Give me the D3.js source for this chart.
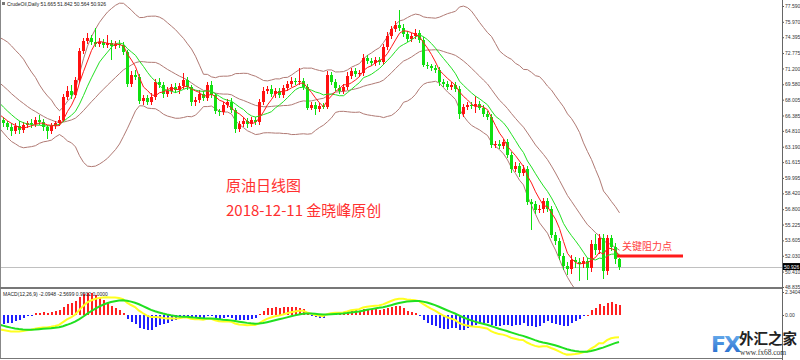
<!DOCTYPE html>
<meta charset="utf-8">
<script src="https://d3js.org/d3.v7.min.js"></script>
<style>
  body { margin: 0; background: #fff; }
  svg text { font-family: "Liberation Sans", Arial, sans-serif; }
</style>
<div id="chart"></div>
<script>

// closes before the first visible bar (only used to warm up the indicators)
var prevCloses = [71.0, 71.6, 72.2, 72.0, 72.6, 73.1, 72.7, 72.2, 72.9, 73.3, 72.6,
  72.5, 72.8, 72.3, 71.8, 71.5, 71.9, 71.2, 70.5, 70.8, 69.9, 69.2, 68.5, 68.8, 67.9,
  67.2, 66.8, 66.1, 66.4, 65.9];

// daily closes of the visible bars (open = previous close)
var closes = [
  65.6, 65.2, 64.8, 65.3, 64.9, 65.4, 65.6, 65.5, 65.9, 65.7,
  65.2, 64.8, 65.3, 65.6, 65.9, 68.3, 68.9, 68.5, 70.0, 73.0,
  74.0, 74.3, 73.9, 73.7, 73.9, 73.6, 73.8, 73.5, 73.7, 73.6,
  72.9, 69.6, 70.5, 70.3, 67.9, 68.2, 67.8, 68.3, 69.8, 69.5,
  68.6, 68.9, 69.3, 69.0, 69.4, 70.0, 69.3, 67.8, 68.0, 68.6,
  68.2, 69.5, 68.5, 66.8, 66.7, 67.5, 67.8, 66.9, 65.0, 65.5,
  65.8, 65.5, 65.9, 65.7, 67.8, 68.9, 69.1, 68.6, 68.9, 68.5,
  69.2, 69.6, 69.9, 69.8, 69.9, 69.3, 67.2, 67.5, 67.0, 67.4,
  67.3, 70.5, 69.8, 69.2, 68.9, 69.3, 70.4, 70.9, 70.6, 70.7,
  72.3, 72.0, 71.8, 72.1, 71.9, 73.4, 74.5, 75.2, 75.6, 75.3,
  74.7, 74.2, 74.5, 74.8, 74.1, 71.6, 71.4, 71.2, 71.0, 69.8,
  69.6, 69.3, 69.5, 69.1, 66.5, 67.3, 67.5, 67.4, 67.6, 67.2,
  66.5, 66.2, 63.4, 63.5, 63.3, 63.7, 62.3, 60.9, 61.2, 60.5,
  60.9, 57.5, 57.3, 56.7, 56.8, 57.6, 56.8, 54.2, 53.5, 52.0,
  51.0, 50.7, 51.6, 51.4, 51.2, 51.5, 50.8, 53.2, 52.6, 53.9,
  50.5, 53.9, 52.9, 51.665, 50.926];

// wick lengths above / below the body
var upWick = [
  0.3, 0.2, 0.4, 0.3, 0.5, 0.3, 0.2, 0.4, 0.3, 0.5,
  0.3, 0.2, 0.3, 0.2, 0.4, 0.3, 0.5, 0.6, 0.3, 0.3,
  0.3, 0.5, 0.3, 1.4, 0.4, 0.3, 0.8, 0.3, 0.3, 0.4,
  0.3, 0.2, 0.4, 0.5, 0.3, 0.3, 0.3, 0.4, 0.3, 0.4,
  0.3, 0.4, 0.3, 0.4, 0.3, 0.7, 0.3, 0.2, 0.3, 0.4,
  0.3, 0.3, 0.4, 0.2, 0.3, 0.3, 0.3, 0.4, 0.3, 0.3,
  0.4, 0.3, 0.3, 0.3, 0.3, 0.4, 0.3, 0.4, 0.3, 0.3,
  0.3, 0.3, 0.4, 0.3, 1.3, 0.3, 0.3, 0.3, 0.3, 0.3,
  0.3, 0.4, 0.3, 0.3, 0.3, 0.3, 0.4, 0.3, 0.3, 0.3,
  0.4, 0.3, 0.3, 0.3, 0.3, 0.3, 0.4, 0.3, 0.5, 1.6,
  0.4, 0.3, 0.3, 0.4, 0.3, 0.3, 0.3, 0.3, 0.4, 0.3,
  0.3, 0.3, 0.3, 0.3, 0.3, 0.3, 0.3, 0.3, 0.8, 0.3,
  0.3, 0.3, 0.3, 0.3, 0.4, 0.3, 0.3, 0.3, 0.4, 0.3,
  0.4, 0.3, 0.3, 0.3, 0.4, 0.3, 0.3, 0.3, 0.3, 0.3,
  0.3, 0.4, 0.5, 0.3, 0.4, 0.4, 0.3, 0.4, 1.1, 0.4,
  0.4, 0.3, 0.3, 0.4, 0.18];
var downWick = [
  0.4, 0.3, 0.5, 0.3, 0.4, 0.3, 0.3, 0.4, 0.3, 0.3,
  0.4, 0.8, 0.3, 0.3, 0.3, 0.2, 0.3, 0.4, 0.3, 0.3,
  0.3, 0.3, 0.3, 0.3, 0.3, 0.3, 0.3, 1.4, 0.3, 0.3,
  0.3, 0.3, 0.3, 0.3, 0.3, 0.4, 0.3, 0.3, 0.3, 0.3,
  0.4, 0.3, 0.3, 0.3, 0.4, 0.3, 0.3, 0.4, 0.4, 0.3,
  0.3, 0.3, 0.3, 0.3, 0.4, 0.3, 0.3, 0.3, 0.4, 0.3,
  0.3, 0.4, 0.3, 0.3, 0.3, 0.3, 0.3, 0.3, 0.4, 0.3,
  0.3, 0.3, 0.3, 0.3, 0.3, 0.3, 0.3, 0.3, 0.6, 0.3,
  0.3, 0.3, 0.3, 0.3, 0.3, 0.3, 0.3, 0.3, 0.3, 0.3,
  0.3, 0.3, 0.3, 0.3, 0.3, 0.3, 0.3, 0.3, 0.3, 0.3,
  0.3, 0.3, 0.3, 0.3, 0.3, 0.3, 0.3, 0.3, 0.3, 0.4,
  0.3, 0.3, 0.3, 0.3, 0.5, 0.3, 0.4, 0.3, 0.8, 0.3,
  0.3, 0.3, 0.3, 0.3, 0.3, 0.3, 0.3, 0.4, 0.3, 0.4,
  0.3, 0.3, 2.6, 0.4, 0.3, 0.4, 0.3, 0.4, 0.4, 0.4,
  0.4, 0.6, 0.5, 0.6, 1.7, 0.4, 1.2, 0.4, 0.5, 0.4,
  0.8, 0.4, 0.4, 0.5, 0.36];

var priceTicks = [77.590, 75.970, 74.395, 72.775, 71.200, 69.580, 68.005, 66.385, 64.810,
  63.190, 61.615, 59.995, 58.420, 56.800, 55.225, 53.605, 52.030, 50.410, 48.835];
var macdTicks = [2.3404, 0];
var lastPrice = 50.926;
var resistance = 52.0;

var headerText = "CrudeOil,Daily  51.665 51.842 50.564 50.926";
var macdText = "MACD(12,26,9) -2.0948 -2.5699 0.9502 0.0000";
var title1 = "原油日线图";
var title2 = "2018-12-11 金晓峰原创";
var noteText = "关键阻力点";

var width = 800, height = 360;
var axisX = 782, mainBottom = 288, macdTop = 290, macdBottom = 358;

var svg = d3.select("#chart").append("svg")
  .attr("width", width).attr("height", height);

var defs = svg.append("defs");
defs.append("clipPath").attr("id", "clipMain")
  .append("rect").attr("x", 1).attr("y", 0).attr("width", axisX - 1).attr("height", mainBottom - 1);
defs.append("clipPath").attr("id", "clipMacd")
  .append("rect").attr("x", 1).attr("y", macdTop).attr("width", axisX - 1).attr("height", macdBottom - macdTop);

// ---- indicator calculations on the full close series
var all = prevCloses.concat(closes);
var off = prevCloses.length;

function sma(arr, n, i) {
  if (i < n - 1) return null;
  var s = 0;
  for (var k = i - n + 1; k <= i; k++) s += arr[k];
  return s / n;
}
function ema(arr, n) {
  var a = 2 / (n + 1), out = [];
  arr.forEach(function(v, i) { out.push(i == 0 ? v : out[i - 1] + a * (v - out[i - 1])); });
  return out;
}

var ind = all.map(function(c, k) {
  var mid = sma(all, 20, k), sd = null;
  if (mid != null) {
    var s = 0;
    for (var j = k - 19; j <= k; j++) s += (all[j] - mid) * (all[j] - mid);
    sd = Math.sqrt(s / 20);
  }
  return {
    i: k - off,
    ma5: sma(all, 5, k),
    ma10: sma(all, 10, k),
    mid: mid,
    up: mid == null ? null : mid + 2 * sd,
    lo: mid == null ? null : mid - 2 * sd
  };
});
var e12 = ema(all, 12), e26 = ema(all, 26);
var dif = all.map(function(c, k) { return e12[k] - e26[k]; });
var dea = ema(dif, 9);
ind.forEach(function(d, k) { d.dif = dif[k]; d.dea = dea[k]; d.hist = 2 * (dif[k] - dea[k]); });

var bars = closes.map(function(c, i) {
  var o = all[off + i - 1];
  return { i: i, o: o, c: c, h: Math.max(o, c) + upWick[i], l: Math.min(o, c) - downWick[i] };
});

// ---- scales
var x = d3.scaleLinear().domain([0, closes.length - 1]).range([3, 3 + 4 * (closes.length - 1)]);
var y = d3.scaleLinear().domain([48.835, 77.590]).range([287, 6]);
var ym = d3.scaleLinear().domain([0, 2.3404]).range([315, 292]);

// ---- main panel
var main = svg.append("g").attr("clip-path", "url(#clipMain)");

// current price line
main.append("line")
  .attr("x1", 0).attr("x2", axisX)
  .attr("y1", Math.round(y(lastPrice)) + 0.5).attr("y2", Math.round(y(lastPrice)) + 0.5)
  .attr("stroke", "#c0c0c0");

// bollinger bands
["up", "mid", "lo"].forEach(function(key) {
  main.append("path")
    .datum(ind.filter(function(d) { return d[key] != null; }))
    .attr("fill", "none")
    .attr("stroke", "#b07a74")
    .attr("stroke-width", 1)
    .attr("d", d3.line().x(function(d) { return x(d.i) + 0.5; }).y(function(d) { return y(d[key]); }));
});

// candles
var cg = main.append("g").attr("shape-rendering", "crispEdges");
cg.selectAll(".wick").data(bars).enter().append("line")
  .attr("x1", function(d) { return Math.round(x(d.i)) + 0.5; })
  .attr("x2", function(d) { return Math.round(x(d.i)) + 0.5; })
  .attr("y1", function(d) { return y(d.h); })
  .attr("y2", function(d) { return y(d.l); })
  .attr("stroke", function(d) { return d.c >= d.o ? "#ff1010" : "#10e010"; });
cg.selectAll(".body").data(bars).enter().append("rect")
  .attr("x", function(d) { return Math.round(x(d.i)) - 1; })
  .attr("width", 3)
  .attr("y", function(d) { return y(Math.max(d.o, d.c)); })
  .attr("height", function(d) { return Math.max(1, Math.abs(y(d.o) - y(d.c))); })
  .attr("fill", function(d) { return d.c >= d.o ? "#ff1010" : "#10e010"; });

// moving averages
var lastIdx = closes.length - 1;
var visInd = ind.filter(function(d) { return d.i <= lastIdx; });
main.append("path")
  .datum(visInd.filter(function(d) { return d.ma10 != null; }))
  .attr("fill", "none").attr("stroke", "#22e022").attr("stroke-width", 1)
  .attr("d", d3.line().x(function(d) { return x(d.i) + 0.5; }).y(function(d) { return y(d.ma10); }));
main.append("path")
  .datum(visInd.filter(function(d) { return d.ma5 != null; }))
  .attr("fill", "none").attr("stroke", "#ff1a1a").attr("stroke-width", 1)
  .attr("d", d3.line().x(function(d) { return x(d.i) + 0.5; }).y(function(d) { return y(d.ma5); }));

// resistance mark and notes
svg.append("line")
  .attr("x1", 617).attr("x2", 683)
  .attr("y1", y(resistance)).attr("y2", y(resistance))
  .attr("stroke", "#ff1a1a").attr("stroke-width", 3);
svg.append("text").attr("x", 622).attr("y", 250)
  .attr("fill", "#ff4040").style("font-size", "10px")
  .style("font-family", "'Noto Sans CJK SC', sans-serif")
  .text(noteText);
svg.append("text").attr("x", 226).attr("y", 191)
  .attr("fill", "#ff3030").style("font-size", "15px")
  .style("font-family", "'Noto Sans CJK SC', sans-serif")
  .text(title1);
svg.append("text").attr("x", 226).attr("y", 216)
  .attr("fill", "#ff3030").style("font-size", "15px")
  .style("font-family", "'Noto Sans CJK SC', sans-serif")
  .text(title2);

// header
svg.append("rect").attr("x", 2).attr("y", 2).attr("width", 3).attr("height", 3).attr("fill", "#777");
svg.append("text").attr("x", 7).attr("y", 6)
  .style("font-size", "5px").attr("fill", "#222").text(headerText);

// ---- MACD panel
var mg = svg.append("g").attr("clip-path", "url(#clipMacd)");
mg.append("g").attr("shape-rendering", "crispEdges")
  .selectAll("rect").data(visInd).enter().append("rect")
  .attr("x", function(d) { return Math.round(x(d.i)) - 0.5; })
  .attr("width", 2)
  .attr("y", function(d) { return Math.min(ym(0), ym(d.hist)); })
  .attr("height", function(d) { return Math.max(1, Math.abs(ym(d.hist) - ym(0))); })
  .attr("fill", function(d) { return d.hist >= 0 ? "#ff2020" : "#2020ff"; });
mg.append("path").datum(visInd)
  .attr("fill", "none").attr("stroke", "#ffff20").attr("stroke-width", 2)
  .attr("d", d3.line().x(function(d) { return x(d.i); }).y(function(d) { return ym(d.dif); }));
mg.append("path").datum(visInd)
  .attr("fill", "none").attr("stroke", "#20e020").attr("stroke-width", 2)
  .attr("d", d3.line().x(function(d) { return x(d.i); }).y(function(d) { return ym(d.dea); }));

svg.append("text").attr("x", 3).attr("y", 296)
  .style("font-size", "5px").attr("fill", "#222").text(macdText);

// ---- frame and separators
svg.append("line").attr("x1", 0.5).attr("x2", 0.5).attr("y1", 0).attr("y2", macdBottom).attr("stroke", "#888");
svg.append("line").attr("x1", 0).attr("x2", axisX).attr("y1", mainBottom).attr("y2", mainBottom)
  .attr("stroke", "#777").attr("stroke-width", 2);
svg.append("line").attr("x1", 0).attr("x2", axisX).attr("y1", macdBottom + 0.5).attr("y2", macdBottom + 0.5)
  .attr("stroke", "#777");

// ---- right axes
var axMain = svg.append("g").attr("transform", "translate(" + axisX + ",0)")
  .call(d3.axisRight(y).tickValues(priceTicks).tickSize(2).tickPadding(1).tickFormat(d3.format(".3f")));
axMain.select(".domain").remove();
var axMacd = svg.append("g").attr("transform", "translate(" + axisX + ",0)")
  .call(d3.axisRight(ym).tickValues(macdTicks).tickSize(2).tickPadding(1)
    .tickFormat(function(d) { return d == 0 ? "0.00" : d3.format(".4f")(d); }));
axMacd.select(".domain").remove();
svg.selectAll(".tick text").style("font-size", "5px").attr("fill", "#333")
  .style("font-family", "'Liberation Sans', sans-serif");
svg.selectAll(".tick line").attr("stroke", "#555");
svg.append("line").attr("x1", axisX + 0.5).attr("x2", axisX + 0.5).attr("y1", 0).attr("y2", height)
  .attr("stroke", "#666");

// current price tag
svg.append("rect").attr("x", axisX + 1).attr("y", y(lastPrice) - 3.5).attr("width", 17).attr("height", 7).attr("fill", "#000");
svg.append("text").attr("x", axisX + 2).attr("y", y(lastPrice) + 2)
  .style("font-size", "5px").attr("fill", "#fff").text(d3.format(".3f")(lastPrice));

// ---- watermark logo
var grad = defs.append("linearGradient").attr("id", "fxg").attr("x1", 0).attr("y1", 0).attr("x2", 0).attr("y2", 1);
grad.append("stop").attr("offset", "0%").attr("stop-color", "#6fb4f0");
grad.append("stop").attr("offset", "100%").attr("stop-color", "#1d63c8");
svg.append("text").attr("x", 711).attr("y", 352)
  .attr("fill", "url(#fxg)").style("font-size", "22px").style("font-weight", "bold")
  .style("font-family", "'DejaVu Sans', sans-serif").style("letter-spacing", "-2px").text("FX");
svg.append("text").attr("x", 739).attr("y", 344)
  .attr("fill", "#222").style("font-size", "14.5px").style("font-weight", "bold")
  .style("font-family", "'Noto Sans CJK SC', sans-serif").text("外汇之家");
svg.append("text").attr("x", 740).attr("y", 355)
  .attr("fill", "#333").style("font-size", "7.5px")
  .style("font-family", "'Liberation Serif', serif").text("www.fx68.com");

</script>
